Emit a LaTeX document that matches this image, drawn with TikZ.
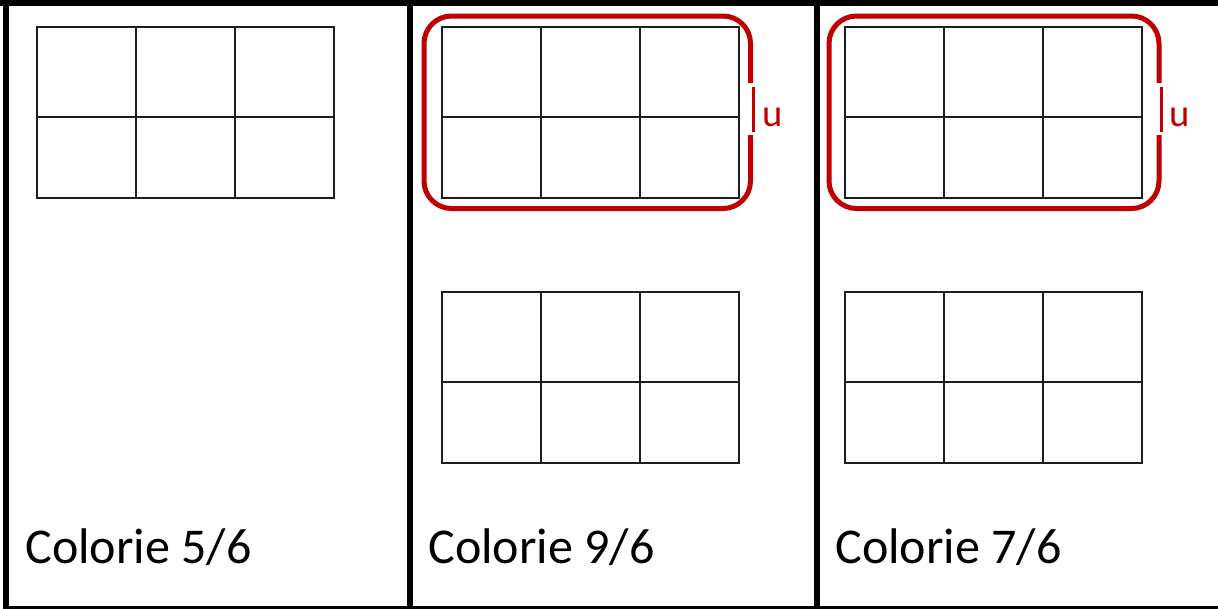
\documentclass[tikz,border=0pt]{standalone}
\usepackage{fontspec}
\setmainfont{Carlito}
\usetikzlibrary{positioning}

\definecolor{rouge}{HTML}{C00000}
\definecolor{trait}{HTML}{1E1E1E}

\begin{document}
\begin{tikzpicture}[
    x=0.02cm, y=-0.02cm,
    every node/.style={font=\fontsize{28.5}{34}\selectfont, inner sep=0pt},
    cadre/.style={line width=0.12cm, black},
    grille/.style={line width=0.055cm, trait},
    bulle/.style={line width=0.1cm, rouge, rounded corners=0.55cm},
]

\useasboundingbox (0,0) rectangle (1218,609);

% ---------------------------------------------------------------- frame
\draw[cadre] (0,3) -- (1218,3);
\draw[cadre] (6,0) -- (6,608);
\draw[cadre] (410,0) -- (410,608);
\draw[cadre] (817,0) -- (817,608);
\draw[line width=0.05cm] (3,607.5) -- (1218,607.5);

% ---------------------------------------------------------------- grids, 3 x 2
\foreach \gx/\gy in {37/27, 442/27, 845/27, 442/292, 845/292} {
    \draw[grille] (\gx,\gy) rectangle ++(297,171);
    \draw[grille] (\gx,\gy+90) -- ++(297,0);
    \foreach \c in {1,2}
        \draw[grille] (\gx+\c*99,\gy) -- ++(0,171);
}

% ---------------------------------------------------------------- unit marked in red
\foreach \bg/\bd/\ux [count=\i from 2] in {424/750.5/773, 829/1159/1180} {
    \draw[bulle] (\bd,135) -- (\bd,208.5) -- (\bg,208.5) -- (\bg,16)
        -- (\bd,16) -- (\bd,83);
    \draw[rouge, line width=0.06cm] (\bd+2.5,87) -- (\bd+2.5,132);
    \node[text=rouge, anchor=base, font=\fontsize{22}{26}\selectfont]
        (u\i) at (\ux,126) {u};
}

% ---------------------------------------------------------------- instructions
\node[anchor=base west] (consigne1) at (25,563) {Colorie 5/6};
\node[anchor=base west] (consigne2) at (428,563) {Colorie 9/6};
\node[anchor=base west] (consigne3) at (835,563) {Colorie 7/6};

\end{tikzpicture}
\end{document}
